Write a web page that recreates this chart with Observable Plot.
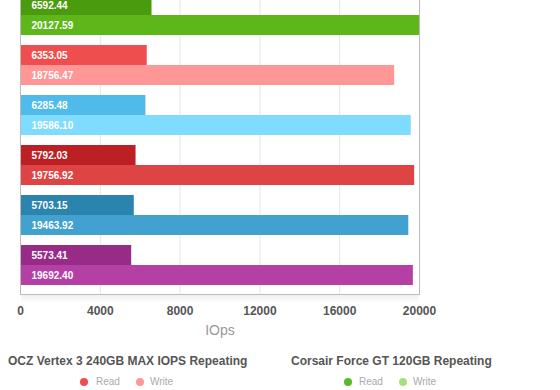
<!DOCTYPE html>
<html>
<head>
<meta charset="utf-8">
<script src="https://cdn.jsdelivr.net/npm/d3@7"></script>
<script src="https://cdn.jsdelivr.net/npm/@observablehq/plot@0.6"></script>
<style>
  html, body { margin: 0; padding: 0; background: #fff; }
  #wrap { position: relative; width: 560px; height: 390px; overflow: hidden; font-family: "Liberation Sans", Arial, sans-serif; }
  #shadow { position: absolute; left: 21px; top: 295px; width: 398px; height: 8px; background: linear-gradient(#f0f0f0, rgba(255,255,255,0)); }
  #chart { position: absolute; left: 0; top: -14px; }
  .ltitle { position: absolute; font-size: 12px; font-weight: bold; color: #555; line-height: 14px; white-space: nowrap; }
  .ldot { position: absolute; width: 8px; height: 8px; border-radius: 50%; }
  .ltext { position: absolute; font-size: 10px; color: #aaa; line-height: 12px; white-space: nowrap; }
</style>
</head>
<body>
<div id="wrap">
  <div id="shadow"></div>
  <div id="chart"></div>
  <div id="legend"></div>
</div>
<script>
// ---- data ----
const groups = [
  "Corsair Force GT 120GB Repeating",
  "OCZ Vertex 3 240GB MAX IOPS Repeating",
  "Drive 3 Repeating",
  "Drive 4 Repeating",
  "Drive 5 Repeating",
  "Drive 6 Repeating"
];
const readValues  = [6592.44, 6353.05, 6285.48, 5792.03, 5703.15, 5573.41];
const writeValues = [20127.59, 18756.47, 19586.10, 19756.92, 19463.92, 19692.40];
const xTicks = [0, 4000, 8000, 12000, 16000, 20000];
const gridTicks = [4000, 8000, 12000, 16000];
const axisTitle = "IOps";

// ---- palette (styling) ----
const readColors  = ["#4b9b0e", "#ef4e4e", "#4ebbeb", "#bc2024", "#2b84ad", "#982a88"];
const writeColors = ["#5db71a", "#ff9797", "#80dcfe", "#df4444", "#42a1cf", "#b540a5"];

const rows = groups.flatMap((g, i) => [
  {group: g, type: "Read", value: readValues[i]},
  {group: g, type: "Write", value: writeValues[i]}
]);
const readRows = rows.filter(d => d.type === "Read");
const writeRows = rows.filter(d => d.type === "Write");

const colorDomain = groups.flatMap(g => [g + " Read", g + " Write"]);
const colorRange = groups.flatMap((g, i) => [readColors[i], writeColors[i]]);

const plot = Plot.plot({
  width: 560,
  height: 358,
  marginTop: 0,
  marginLeft: 20,
  marginRight: 141,
  marginBottom: 50,
  style: {fontFamily: "'Liberation Sans', Arial, sans-serif", background: "transparent"},
  x: {domain: [0, 20000], axis: null},
  y: {domain: groups, paddingInner: 0.2, paddingOuter: 0.18, axis: null},
  color: {domain: colorDomain, range: colorRange},
  marks: [
    Plot.gridX(gridTicks, {stroke: "#e6e6e6", strokeOpacity: 1}),
    Plot.barX(readRows, {x: "value", y: "group", fill: d => d.group + " Read", insetBottom: 20, clip: true}),
    Plot.barX(writeRows, {x: "value", y: "group", fill: d => d.group + " Write", insetTop: 20, clip: true}),
    Plot.text(readRows, {x: 0, y: "group", text: d => d.value.toFixed(2), dx: 11, dy: -10, textAnchor: "start", fill: "white", fontWeight: "bold", fontSize: 10}),
    Plot.text(writeRows, {x: 0, y: "group", text: d => d.value.toFixed(2), dx: 11, dy: 10, textAnchor: "start", fill: "white", fontWeight: "bold", fontSize: 10}),
    Plot.frame({stroke: "#bbb"}),
    Plot.axisX({ticks: xTicks, tickSize: 0, tickPadding: 12, label: null, fontSize: 12, fontWeight: "bold", fill: "#555", tickFormat: d => String(d)}),
    Plot.text([axisTitle], {text: d => d, frameAnchor: "bottom", dy: 40, fontSize: 14, fill: "#999"})
  ]
});
document.getElementById("chart").appendChild(plot);

// ---- legend (HTML) ----
const legendSeries = [
  {title: groups[1], left: 8, colors: [readColors[1], writeColors[1]], dots: [80, 136], texts: [96, 150]},
  {title: groups[0], left: 291, colors: ["#5cb72a", "#a6e085"], dots: [344, 399], texts: [359, 413]}
];
const legendTypes = ["Read", "Write"];
const lg = document.getElementById("legend");
legendSeries.forEach(s => {
  const t = document.createElement("div");
  t.className = "ltitle";
  t.style.left = s.left + "px";
  t.style.top = "354px";
  t.textContent = s.title;
  lg.appendChild(t);
  legendTypes.forEach((ty, j) => {
    const dot = document.createElement("div");
    dot.className = "ldot";
    dot.style.left = s.dots[j] + "px";
    dot.style.top = "378px";
    dot.style.background = s.colors[j];
    lg.appendChild(dot);
    const tx = document.createElement("div");
    tx.className = "ltext";
    tx.style.left = s.texts[j] + "px";
    tx.style.top = "376px";
    tx.textContent = ty;
    lg.appendChild(tx);
  });
});
</script>
</body>
</html>
